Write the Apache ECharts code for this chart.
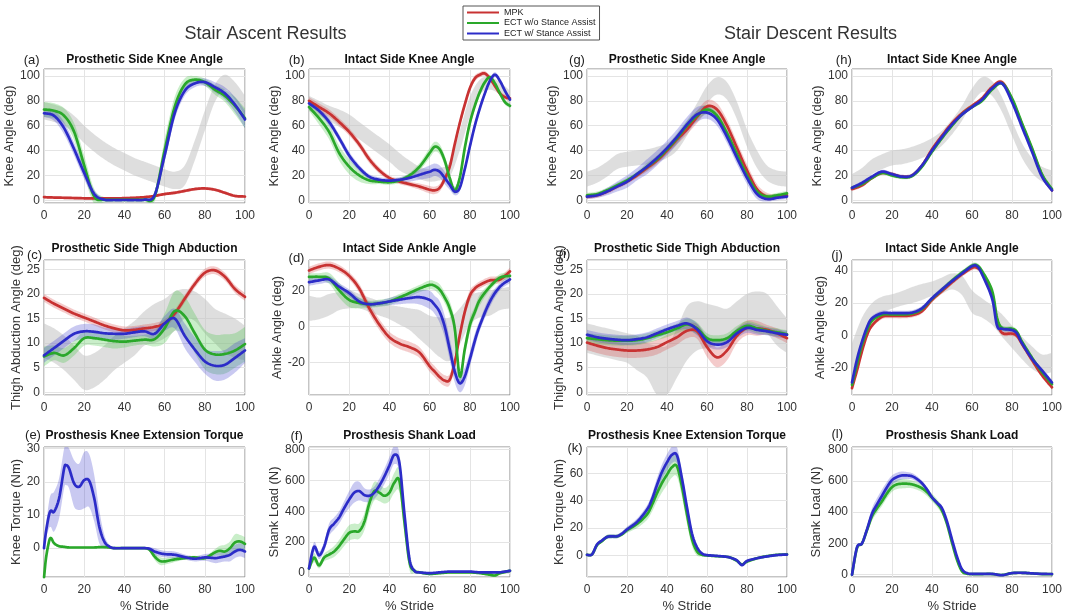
<!DOCTYPE html>
<html>
<head>
<meta charset="utf-8">
<script src="https://cdn.jsdelivr.net/npm/echarts/dist/echarts.min.js"></script>
<style>
  html, body { margin: 0; padding: 0; background: #fff; }
  #main { width: 1068px; height: 615px; }
</style>
</head>
<body>
<div id="main"></div>
<script>
// % stride sample points
var STRIDE = [0,5,10,15,20,25,30,35,40,45,50,55,60,65,70,75,80,85,90,95,100];

// (a) prosthetic knee, ascent
var aNormMid = [72,70,67,61,53,46,40,35,31,27,24,21,18,16,20,40,64,86,95,88,76];
var aNormSd  = [7,7,7,7,7,7,7,7,7,7,7,7,7,7,8,8,8,7,6,7,8];
var aMpk     = [2.5,2.2,2,1.8,1.6,1.5,1.5,1.5,1.7,2,2.5,3.5,5,6,7.5,9,9.5,8.5,6,3.5,3];
var aMpkSd   = [1,1,1,1,1,1,1,1,1,1,1,1,1.2,1.2,1.2,1.2,1.2,1.2,1.2,1,1];
var aNoSa    = [73,72,68,55,28,3,0.5,0.3,0.3,0.3,0.5,3,40,75,93,97,95,89,84,76,66];
var aNoSaSd  = [6,6,6,7,8,6,2,1,1,1,1.5,4,9,8,5,3,3,4,5,7,8];
var aSa      = [70,68,58,41,22,5,0.5,0.2,0.2,0.2,0.5,4,36,70,88,94,95,91,86,77,65];
var aSaSd    = [3,4,5,5,5,3,1,0.5,0.5,0.5,1,2,5,5,4,3,3,4,5,6,7];

// (b) intact knee, ascent
var bX       = [0,5,10,15,20,25,30,35,40,45,50,55,60,62.5,65,67.5,70,72.5,75,77.5,80,82.5,85,87.5,90,92.5,95,97.5,100];
var bNormMid = [78,74,70,66,62,56,50,44,38,31,26,22,20,21,25,48,75,91,94,90,83];
var bNormSd  = [6,6,6,7,7,7,7,7,7,7,6,5,5,5,6,8,8,6,5,5,5];
var bMpk     = [80,75,70,63,55,45,33,24,18,15,13,11,8.5,8,10,17,27,45,62,77,90,98,101,102,98,92,86,83,82];
var bMpkSd   = [3,3,3,3,3,3,3,2.5,2,2,2,2.5,3,3,3,3,3,3,3,3,3,2.5,2,2,2,2,2,2,2];
var bNoSa    = [75,66,55,38,27,20,16,15,14.5,16,20,27,38,43,41,32,18,8,18,42,62,76,87,95,99,94,86,79,76];
var bNoSaSd  = [3,5,6,6,6,5,3,2,2,2,2,3,4,4,4,4,4,3,4,4,4,3,3,2,2,2,2,2,2];
var bSa      = [78,72,63,50,36,26,19,16.5,15.8,16.5,18,20.5,23,24.5,23,18,12.5,7,10,25,43,60,74,86,96,101,96,88,81];
var bSaSd    = [2,2,3,3,3,2.5,2,2,2,2,3,4,5,5,5,5,4,3,3,3,3,3,3,2,2,2,2,2,2];

// (g) prosthetic knee, descent
var gNormMid = [17,20,25,31,33,34,35,37,40,46,58,72,85,92,88,72,50,33,22,18,17];
var gNormSd  = [6,6,6,6,6,6,6,6,6,6,6,6,7,7,7,7,7,7,6,6,6];
var gMpk     = [3,4,7,11,15,20,26,32,40,49,57,67,75.5,73,60,42,24,9,3,3,4];
var gMpkSd   = [2,2,2,2,2,2,3,3,3,4,4,5,5,5,5,5,5,4,3,2,2];
var gNoSa    = [4,5,8,12,16,21,27,33,41,50,60,68,73,68,54,37,20,7,3,4,5.5];
var gNoSaSd  = [2,2,2,2,2,2,3,3,3,4,4,4,4,4,4,4,4,3,2,2,2];
var gSa      = [3,4,7,11,15,21,27,34,42,51,61,69,70.5,65,51,34,18,5,1,2,3];
var gSaSd    = [2,2,3,4,5,5,6,6,6,6,6,6,5,5,5,5,5,4,2,2,2];

// (h) intact knee, descent
var hNormMid = [15,20,27,31,34,35,37,40,44,50,59,70,84,93,90,77,58,40,28,21,18];
var hNormSd  = [6,6,6,6,6,6,6,6,6,6,6,6,6,6,6,6,6,6,6,6,6];
var hMpk     = [9,12,18,22,21,19,20,28,41,52,62,70,76,82,91,95,81,61,41,20,8];
var hMpkSd   = [1.5,1.5,1.5,1.5,1.5,1.5,1.5,1.5,1.5,1.5,1.5,1.5,1.5,1.5,1.5,1.5,1.5,1.5,1.5,1.5,1.5];
var hNoSa    = [10,13,18,22,20,18.5,19.5,27,39,50,60,69,75,80,89,94,82,62,42,21,9];
var hNoSaSd  = [1.5,1.5,1.5,1.5,1.5,1.5,1.5,1.5,1.5,1.5,1.5,1.5,1.5,1.5,1.5,1.5,1.5,1.5,1.5,1.5,1.5];
var hSa      = [10,14,19,23,21,19,20,28,40,51,61,69,75,81,90,94,79,59,39,19,8];
var hSaSd    = [1.5,1.5,1.5,1.5,1.5,1.5,1.5,1.5,1.5,1.5,1.5,1.5,1.5,1.5,1.5,1.5,1.5,1.5,1.5,1.5,1.5];

// (c) prosthetic thigh abduction, ascent
var cNormMid = [10.5,9.5,8,6,4,4.5,6,8,9.5,11,13,14,15,16.5,18,17.5,15.5,13.5,12,11,10];
var cNormSd  = [3.5,3.5,3.5,3.5,3.5,3.5,3.5,3.5,3.5,3.5,3.5,4,4,4,3,3,3.5,3.5,4,4,3.5];
var cMpk     = [19.2,18,17,16,15.2,14.4,13.6,13,12.6,12.7,13,13.3,14,16,19,22,24.3,24.8,23.5,21,19.4];
var cMpkSd   = [0.8,0.8,0.8,0.8,0.8,0.8,0.8,0.8,0.8,0.8,0.8,0.8,0.8,0.8,0.8,0.8,0.8,0.8,0.8,0.8,0.8];
var cNoSa    = [7.3,8,7.5,9,11,11,10.7,10.4,10.3,10.5,10.7,10.8,13,16.5,15.5,12,8.7,7.7,7.8,8.5,9.8];
var cNoSaSd  = [2,1.5,1.5,1.5,1.5,1.5,1.5,1.5,1.2,1,1,1.5,3,4,4,4,4,4,4,3.5,3.5];
var cSa      = [7.5,9,10.5,11.9,12.4,12.3,12,11.9,11.9,12.2,12.4,11.9,14,15,11.5,8.7,6.3,5.4,5.6,7,8.5];
var cSaSd    = [1.5,1.5,1.5,1.5,1.5,1.5,1.2,1.2,1,1,1,1,1.5,2,2.5,2.5,2.5,3,3,3,2.5];

// (d) intact ankle, ascent
var dX       = [0,5,10,15,20,25,30,35,40,45,50,55,60,62.5,65,67.5,70,72.5,75,77.5,80,82.5,85,90,95,100];
var dNormMid = [10,10,12,14,15,14,12,10,8,6,4,1,-3,-6,-7,0,9,12,13,15,16];
var dNormSd  = [7,6,6,5,5,4,4,4,4,5,6,8,9,11,12,10,8,7,7,6,6];
var dMpk     = [31,33,34,32,28,21,10,1,-6,-9.5,-11.5,-14.5,-22,-25,-28,-30,-29.5,-20,-5,8,17,21,23,25.5,26,30.5];
var dMpkSd   = [2,2,2,2,2,2.5,3,3,3,3,3,3,3,3,3,3,3,3,3,3,3,2,2,2,2,2];
var dNoSa    = [27.4,27.5,26.6,20,14.7,13,12.3,12.8,13.8,16,18.5,21,23,22.5,20.4,16,10,-1,-27.7,-12.6,0.6,8,14.7,22,27,28];
var dNoSaSd  = [2,2,3,4,4,3,2,2,2,2,2,2,2.5,2.5,3,3,4,4,4,4,4,3,3,2,2,2];
var dSa      = [24.5,25.5,26,22,18.5,13.8,12.3,12.8,13.8,14.8,15.7,16.2,14.7,12,8,0,-12.6,-25,-31.5,-27.7,-18.3,-8,0.6,13.8,22,26];
var dSaSd    = [2,2,2,2,2,2,1.5,1.5,2,2.5,3,4,5,5,6,6,6,6,5,5,4,4,3,3,2,2];

// (i) prosthetic thigh abduction, descent
var iNormMid = [11,10.5,10,9.5,9,8,6.5,4.5,4.5,8,12,13.5,13.5,13.5,13.5,15,16.5,17,16,13.5,11.5];
var iNormSd  = [3,3,3,3,3,3.5,3.5,5,5,5,5.5,5,4.5,4,3.5,3.5,3.5,3.5,4,4,3.5];
var iMpk     = [10.1,9.5,9,8.7,8.5,8.5,8.7,9.2,10.2,11.2,12.5,12.4,9.2,7.1,8.5,11.5,13.1,13,12.7,12,11];
var iMpkSd   = [1.5,1.5,1.5,1.5,1.5,1.5,1.5,1.5,1.5,1.5,1.5,1.5,2,2,2,1.5,1.5,1.5,1,1,1];
var iNoSa    = [11,10.8,10.6,10.5,10.5,10.6,11,11.6,12.2,13,13.8,13,11,10.6,11,12.5,13.5,13,12.5,12.2,11.8];
var iNoSaSd  = [1,1,1,1,1,1,1,1,1,1,1.2,1.2,1,1,1,1,1,1,0.8,0.8,0.8];
var iSa      = [11.7,11.2,10.9,10.7,10.6,10.8,11.2,12,12.8,13.5,14,12.8,10.4,9.7,10.2,12,13.1,12.7,12.4,12,11.7];
var iSaSd    = [1,1,1,1,1,1,1,1,1,1,1.2,1.2,1,1,1,1,1,1,0.8,0.8,0.8];

// (j) intact ankle, descent
var jX       = [0,2.5,5,7.5,10,15,20,25,30,35,40,45,50,55,60,62.5,65,70,72.5,75,80,82.5,85,90,95,100];
var jNormMid = [-15,3,14,19,21,23,25,27,29,31,33.5,31,21,17,12.5,6,-1,-8,-14,-18,-17];
var jNormSd  = [10,8,6,5,4.5,4.5,5,5,4.5,5,5,6,7,6,6,7,7,7,7,6,6];
var jMpk     = [-33,-22,-10,0,6,11.5,12,12,12.5,15,22,27.5,33,38,42,42,39,26,9,1.5,1,-0.5,-5.5,-15.5,-25,-32.5];
var jMpkSd   = [1.5,1.5,1.5,1.5,1.5,1.5,1.5,1.5,1.5,1.5,1.5,1.5,1.5,1.5,1.5,1.5,1.5,1.5,1.5,1.5,1.5,1.5,1.5,1.5,1.5,1.5];
var jNoSa    = [-31,-18,-6,3,9,12.8,13,13,13.5,16.3,22.7,28.3,34,39,43.3,43.5,40,28,11,4.5,4,2,-4,-14,-23,-30.5];
var jNoSaSd  = [1.5,1.5,1.5,1.5,1.5,1.5,1.5,1.5,1.5,1.5,1.5,1.5,1.5,1.5,1.5,1.5,1.5,1.5,1.5,1.5,1.5,1.5,1.5,1.5,1.5,1.5];
var jSa      = [-29.5,-15,-4,5,10.5,13.7,13.7,13.8,14.1,16.8,23,28.5,33.7,38.5,43,43,38,23,6,4,3.2,1,-5,-14.7,-22,-29.5];
var jSaSd    = [1.5,1.5,1.5,1.5,1.5,1.5,1.5,1.5,1.5,1.5,1.5,1.5,1.5,1.5,1.5,1.5,1.5,1.5,1.5,1.5,1.5,1.5,1.5,1.5,1.5,1.5];

// (e) knee extension torque, ascent
var eX       = [0,1,2.5,3.5,5,7.5,10,11,12.5,15,17.5,20,22.5,25,27.5,30,32.5,35,40,45,50,52.5,55,57.5,60,65,70,75,80,85,87.5,90,92.5,95,97.5,100];
var eNoSa    = [-9,-3,2,3,1.5,0.6,0.4,0.3,0.2,0.2,0.2,0.2,0.2,0.2,0.3,0.3,0.2,0,0,0,0,-0.5,-2.5,-3.8,-4,-3.4,-3,-2.8,-3,-1.3,-0.8,-1,0,1.7,2,1.3];
var eNoSaSd  = [0.5,0.5,0.5,0.5,0.5,0.4,0.3,0.3,0.3,0.3,0.3,0.3,0.3,0.3,0.3,0.3,0.3,0.2,0.2,0.2,0.2,0.5,1,1.2,1,0.8,0.5,0.5,0.5,1,1.5,2,2,2.5,2,2];
var eSa      = [0,5,10,11.3,11,15,24,25,24,19.5,18.5,20.5,20.3,15,6.5,2,0.5,0,0,0,0,-0.2,-1,-1.5,-1.8,-2,-2.7,-3.2,-2.8,-3,-2.8,-2.5,-2,-1,-0.5,-1];
var eSaSd    = [0.5,2,4,5,6,6,6,6,6,7,7,8.5,8,7,5,2,0.5,0.3,0.2,0.2,0.3,0.5,1,1,1,1,0.8,0.8,1,1.5,1.5,1.5,2,2,2,2];

// (f) shank load, ascent
var fX       = [0,2.5,5,7.5,10,12.5,15,17.5,20,22.5,25,27.5,30,32.5,35,37.5,40,42.5,45,47.5,50,52.5,55,60,65,70,75,80,85,90,92.5,95,100];
var fNoSa    = [30,100,50,100,120,140,175,220,260,270,272,330,450,530,520,500,520,585,595,330,70,15,5,-5,0,5,5,5,0,-10,-15,0,15];
var fNoSaSd  = [15,30,20,25,30,35,40,45,50,50,50,55,60,60,55,50,55,65,75,80,50,15,8,8,8,8,8,8,8,10,10,10,10];
var fSa      = [30,170,115,170,280,320,360,420,475,520,530,505,500,520,565,625,695,765,710,380,90,15,5,0,5,10,10,10,5,5,5,5,15];
var fSaSd    = [15,30,25,30,40,40,40,45,55,65,60,45,40,40,45,50,55,60,60,50,30,10,5,5,5,5,5,5,5,8,8,8,10];

// (k) knee extension torque, descent
var kX       = [0,2.5,5,7.5,10,12.5,15,17.5,20,25,30,32.5,35,37.5,40,42.5,45,47.5,50,52.5,55,57.5,60,65,70,72.5,75,77.5,80,85,90,95,100];
var kNoSa    = [0.5,0.8,7.5,10.5,13.5,14,14,15.5,18.5,23,30,37,45.5,53,59,64.5,65,50,30,12,3,0.5,0,-0.5,-1,-2,-4,-6.5,-4.5,-2,-0.5,0.5,0.8];
var kNoSaSd  = [0.5,0.8,1,1.2,1.5,1.5,1.5,1.5,2,3,4,5,6,7,7.5,7.5,7.5,7.5,7,5,3,1,0.5,0.5,0.5,0.8,1,1,1,0.8,0.5,0.5,0.5];
var kSa      = [0.5,0.8,8,11,13.5,14,14,16,19,24.5,33.5,41,51.5,61,68,73.5,73,56,35,16,6,1.5,0.3,-0.3,-1,-2,-3.6,-7,-4,-2,-0.7,0.3,0.7];
var kSaSd    = [0.5,0.8,1,1.2,1.5,1.5,1.5,1.5,2,2.5,3,4,5,5.5,6,6,6,5,4,3,2,1,0.5,0.5,0.5,0.8,1,1,1,0.8,0.5,0.5,0.5];

// (l) shank load, descent
var lX       = [0,2.5,5,7.5,10,12.5,15,17.5,20,22.5,25,27.5,30,32.5,35,37.5,40,42.5,45,47.5,50,52.5,55,57.5,60,65,70,75,80,85,90,95,100];
var lNoSa    = [0,170,200,285,375,425,470,520,560,578,582,582,578,568,553,528,493,458,410,325,205,95,22,6,4,4,4,-2,10,12,8,4,3];
var lNoSaSd  = [5,10,10,20,30,30,30,30,30,30,30,28,25,25,25,25,25,25,25,25,20,15,10,5,4,4,4,4,4,4,4,4,4];
var lSa      = [0,175,200,290,390,450,505,560,605,625,635,635,630,612,585,545,495,460,425,340,225,115,35,10,5,5,5,-3,10,12,8,5,4];
var lSaSd    = [5,10,10,20,35,40,40,35,30,28,25,22,20,18,15,15,15,15,15,15,15,12,8,5,4,4,4,4,4,4,4,4,4];

var NAMES = ['MPK', 'ECT w/o Stance Assist', 'ECT w/ Stance Assist'];
var LINE_COLORS = ['#c83232', '#2aa82a', '#2c2cc8'];
var BAND_COLORS = ['rgba(215,70,70,0.28)', 'rgba(60,195,60,0.28)', 'rgba(60,60,205,0.28)'];
var NORM_COLOR = 'rgba(195,195,195,0.55)';
var FONT = "'Liberation Sans', Arial, sans-serif";

var COLS = [[44, 245], [309, 510], [587, 787], [852, 1052]];
var ROWS = [[69, 203], [260, 395], [447, 577]];
var TITLE_Y = [61, 249.5, 436.7];

var panels = [
  { r: 0, c: 0, tag: '(a)', tagPos: [31.7, 61], title: 'Prosthetic Side Knee Angle', yName: 'Knee Angle (deg)', yMin: -2.2, yMax: 105.6, split: 5, step: 20, gap: 21,
    norm: [STRIDE, aNormMid, aNormSd], lines: [[STRIDE, aMpk, aMpkSd], [STRIDE, aNoSa, aNoSaSd], [STRIDE, aSa, aSaSd]] },
  { r: 0, c: 1, tag: '(b)', tagPos: [296.7, 61], title: 'Intact Side Knee Angle', yName: 'Knee Angle (deg)', yMin: -2.2, yMax: 105.6, split: 5, step: 20, gap: 23.5,
    norm: [STRIDE, bNormMid, bNormSd], lines: [[bX, bMpk, bMpkSd], [bX, bNoSa, bNoSaSd], [bX, bSa, bSaSd]] },
  { r: 0, c: 2, tag: '(g)', tagPos: [577, 61], title: 'Prosthetic Side Knee Angle', yName: 'Knee Angle (deg)', yMin: -2.2, yMax: 105.6, split: 5, step: 20, gap: 22,
    norm: [STRIDE, gNormMid, gNormSd], lines: [[STRIDE, gMpk, gMpkSd], [STRIDE, gNoSa, gNoSaSd], [STRIDE, gSa, gSaSd]] },
  { r: 0, c: 3, tag: '(h)', tagPos: [843.8, 61], title: 'Intact Side Knee Angle', yName: 'Knee Angle (deg)', yMin: -2.2, yMax: 105.6, split: 5, step: 20, gap: 22,
    norm: [STRIDE, hNormMid, hNormSd], lines: [[STRIDE, hMpk, hMpkSd], [STRIDE, hNoSa, hNoSaSd], [STRIDE, hSa, hSaSd]] },
  { r: 1, c: 0, tag: '(c)', tagPos: [34.5, 256.4], title: 'Prosthetic Side Thigh Abduction', yName: 'Thigh Abduction Angle (deg)', yMin: -0.55, yMax: 26.9, split: 5, step: 5, gap: 19.5,
    norm: [STRIDE, cNormMid, cNormSd], lines: [[STRIDE, cMpk, cMpkSd], [STRIDE, cNoSa, cNoSaSd], [STRIDE, cSa, cSaSd]] },
  { r: 1, c: 1, tag: '(d)', tagPos: [296.5, 259.8], title: 'Intact Side Ankle Angle', yName: 'Ankle Angle (deg)', yMin: -38, yMax: 36.8, split: 4, step: 20, gap: 21.5,
    norm: [STRIDE, dNormMid, dNormSd], lines: [[dX, dMpk, dMpkSd], [dX, dNoSa, dNoSaSd], [dX, dSa, dSaSd]] },
  { r: 1, c: 2, tag: '(i)', tagPos: [564.5, 255.7], title: 'Prosthetic Side Thigh Abduction', yName: 'Thigh Abduction Angle (deg)', yMin: -0.55, yMax: 26.9, split: 5, step: 5, gap: 18.5,
    norm: [STRIDE, iNormMid, iNormSd], lines: [[STRIDE, iMpk, iMpkSd], [STRIDE, iNoSa, iNoSaSd], [STRIDE, iSa, iSaSd]] },
  { r: 1, c: 3, tag: '(j)', tagPos: [837, 256.4], title: 'Intact Side Ankle Angle', yName: 'Ankle Angle (deg)', yMin: -37.3, yMax: 46.9, split: 4, step: 20, gap: 22.5,
    norm: [STRIDE, jNormMid, jNormSd], lines: [[jX, jMpk, jMpkSd], [jX, jNoSa, jNoSaSd], [jX, jSa, jSaSd]] },
  { r: 2, c: 0, tag: '(e)', tagPos: [33, 436.7], title: 'Prosthesis Knee Extension Torque', yName: 'Knee Torque (Nm)', yMin: -8.7, yMax: 30.5, split: 4, step: 10, gap: 19.5,
    norm: null, lines: [null, [eX, eNoSa, eNoSaSd], [eX, eSa, eSaSd]] },
  { r: 2, c: 1, tag: '(f)', tagPos: [296.6, 437.4], title: 'Prosthesis Shank Load', yName: 'Shank Load (N)', yMin: -25, yMax: 815, split: 4, step: 200, gap: 28.5,
    norm: null, lines: [null, [fX, fNoSa, fNoSaSd], [fX, fSa, fSaSd]] },
  { r: 2, c: 2, tag: '(k)', tagPos: [575, 449.5], title: 'Prosthesis Knee Extension Torque', yName: 'Knee Torque (Nm)', yMin: -15.7, yMax: 79.2, split: 5, step: 20, gap: 20,
    norm: null, lines: [null, [kX, kNoSa, kNoSaSd], [kX, kSa, kSaSd]] },
  { r: 2, c: 3, tag: '(l)', tagPos: [837.3, 435], title: 'Prosthesis Shank Load', yName: 'Shank Load (N)', yMin: -15, yMax: 817, split: 4, step: 200, gap: 29.5,
    norm: null, lines: [null, [lX, lNoSa, lNoSaSd], [lX, lSa, lSaSd]] }
];

// Catmull-Rom through pixel points; used for both band edges and mean lines
function spline(pts) {
  var out = [], n = pts.length;
  for (var i = 0; i < n - 1; i++) {
    var p0 = pts[Math.max(i - 1, 0)], p1 = pts[i], p2 = pts[i + 1], p3 = pts[Math.min(i + 2, n - 1)];
    for (var s = 0; s < 10; s++) {
      var t = s / 10, t2 = t * t, t3 = t2 * t, q = [];
      for (var k = 0; k < 2; k++) {
        q.push(0.5 * (2 * p1[k] + (-p0[k] + p2[k]) * t + (2 * p0[k] - 5 * p1[k] + 4 * p2[k] - p3[k]) * t2 + (-p0[k] + 3 * p1[k] - 3 * p2[k] + p3[k]) * t3));
      }
      out.push(q);
    }
  }
  out.push(pts[n - 1]);
  return out;
}

function clampTo(cs) {
  return function (p) {
    return [Math.min(Math.max(p[0], cs.x), cs.x + cs.width), Math.min(Math.max(p[1], cs.y), cs.y + cs.height)];
  };
}

function bandSeries(gi, xs, mid, sd, fill) {
  var data = xs.map(function (x, i) { return [x, mid[i] - sd[i], mid[i] + sd[i]]; });
  return {
    type: 'custom', xAxisIndex: gi, yAxisIndex: gi, silent: true, z: 1,
    data: data, encode: { x: 0, y: [1, 2] },
    renderItem: function (params, api) {
      if (params.dataIndex !== 0) return null;
      var up = spline(data.map(function (d) { return api.coord([d[0], d[2]]); }));
      var lo = spline(data.map(function (d) { return api.coord([d[0], d[1]]); })).reverse();
      return { type: 'polygon', shape: { points: up.concat(lo).map(clampTo(params.coordSys)) }, style: { fill: fill } };
    }
  };
}

function lineSeries(gi, xs, mid, k) {
  var data = xs.map(function (x, i) { return [x, mid[i]]; });
  return {
    type: 'custom', name: NAMES[k], xAxisIndex: gi, yAxisIndex: gi, silent: true, z: 3,
    data: data, encode: { x: 0, y: 1 }, itemStyle: { color: LINE_COLORS[k] },
    renderItem: function (params, api) {
      if (params.dataIndex !== 0) return null;
      var pts = spline(data.map(function (d) { return api.coord(d); })).map(clampTo(params.coordSys));
      return { type: 'polyline', shape: { points: pts },
        style: { stroke: LINE_COLORS[k], lineWidth: 2.7, fill: 'none', lineJoin: 'round', lineCap: 'round' } };
    }
  };
}

function tickFmt(step) {
  return function (v) {
    var q = v / step;
    return Math.abs(q - Math.round(q)) < 1e-6 ? String(Math.round(v)) : '';
  };
}

var grids = [], xAxes = [], yAxes = [], series = [], titles = [];

titles.push({ text: 'Stair Ascent Results', left: 265.5, top: 25.5, textAlign: 'center', padding: 0,
  textStyle: { fontSize: 18, fontWeight: 'normal', color: '#333', fontFamily: FONT } });
titles.push({ text: 'Stair Descent Results', left: 810.5, top: 25.5, textAlign: 'center', padding: 0,
  textStyle: { fontSize: 18, fontWeight: 'normal', color: '#333', fontFamily: FONT } });

panels.forEach(function (p, gi) {
  var x0 = COLS[p.c][0], x1 = COLS[p.c][1], y0 = ROWS[p.r][0], y1 = ROWS[p.r][1];
  grids.push({ left: x0, top: y0, width: x1 - x0, height: y1 - y0, show: true, borderColor: '#8a8a8a', borderWidth: 1 });
  xAxes.push({
    gridIndex: gi, type: 'value', min: 0, max: 100, interval: 20,
    axisLine: { show: false }, axisTick: { show: false },
    splitLine: { lineStyle: { color: '#e4e4e4', width: 1 } },
    axisLabel: { fontSize: 12, color: '#333', margin: 7, fontFamily: FONT },
    name: p.r === 2 ? '% Stride' : '', nameLocation: 'middle', nameGap: 23,
    nameTextStyle: { fontSize: 13, color: '#333', fontFamily: FONT }
  });
  yAxes.push({
    gridIndex: gi, type: 'value', min: p.yMin, max: p.yMax, splitNumber: p.split,
    axisLine: { show: false }, axisTick: { show: false },
    splitLine: { lineStyle: { color: '#e4e4e4', width: 1 } },
    axisLabel: { fontSize: 12, color: '#333', margin: 4, fontFamily: FONT, formatter: tickFmt(p.step) },
    name: p.yName, nameLocation: 'middle', nameGap: p.gap,
    nameTextStyle: { fontSize: 13, color: '#333', fontFamily: FONT }
  });
  if (p.norm) series.push(bandSeries(gi, p.norm[0], p.norm[1], p.norm[2], NORM_COLOR));
  p.lines.forEach(function (t, k) { if (t) series.push(bandSeries(gi, t[0], t[1], t[2], BAND_COLORS[k])); });
  p.lines.forEach(function (t, k) { if (t) series.push(lineSeries(gi, t[0], t[1], k)); });

  titles.push({ text: p.title, left: (x0 + x1) / 2, top: TITLE_Y[p.r] - 7, textAlign: 'center', padding: 0,
    textStyle: { fontSize: 12, fontWeight: 'bold', color: '#111', fontFamily: FONT } });
  titles.push({ text: p.tag, left: p.tagPos[0], top: p.tagPos[1] - 7.5, textAlign: 'center', padding: 0,
    textStyle: { fontSize: 13, fontWeight: 'normal', color: '#222', fontFamily: FONT } });
});

var chart = echarts.init(document.getElementById('main'), null, { renderer: 'canvas' });
chart.setOption({
  animation: false,
  backgroundColor: '#fff',
  title: titles,
  legend: {
    orient: 'vertical', left: 463, top: 6, data: NAMES, icon: 'rect',
    itemWidth: 32, itemHeight: 2, itemGap: 1.5, padding: [2, 4, 2, 4],
    borderColor: '#555', borderWidth: 1, selectedMode: false,
    textStyle: { fontSize: 9, color: '#222', fontFamily: FONT }
  },
  grid: grids,
  xAxis: xAxes,
  yAxis: yAxes,
  series: series
});
</script>
</body>
</html>
